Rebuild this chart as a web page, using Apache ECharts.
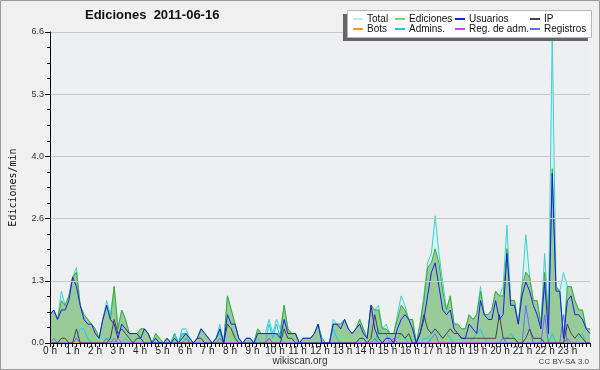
<!DOCTYPE html>
<html><head><meta charset="utf-8">
<script src="https://cdn.jsdelivr.net/npm/echarts@6/dist/echarts.min.js"></script>
<style>html,body{margin:0;padding:0;background:#f0f0f0}#c{width:600px;height:370px}</style>
</head><body><div id="c"></div>
<script>
// 10-minute bins over the day (144 values each), edits per minute
const total = [0.6,0.7,0.5,1.1,0.8,1.0,1.4,1.6,0.8,0.6,
 0.5,0.4,0.3,0.1,0.5,0.9,0.6,1.2,0.3,0.7,
 0.5,0.2,0.2,0.2,0.3,0.3,0.2,0.0,0.2,0.1,
 0.0,0.1,0.0,0.2,0.0,0.3,0.3,0.1,0.0,0.1,
 0.3,0.2,0.1,0.0,0.1,0.4,0.0,1.0,0.7,0.4,
 0.1,0.0,0.1,0.1,0.0,0.3,0.2,0.2,0.5,0.2,
 0.5,0.3,0.8,0.3,0.2,0.2,0.0,0.1,0.1,0.1,
 0.2,0.4,0.1,0.0,0.0,0.5,0.4,0.4,0.5,0.3,
 0.2,0.3,0.5,0.3,0.1,0.8,0.7,0.8,0.3,0.4,
 0.2,0.2,0.6,1.0,0.8,0.5,0.5,0.0,0.4,1.0,
 1.7,1.9,2.7,1.9,1.3,0.7,1.0,0.4,0.4,0.3,
 0.3,0.6,0.5,0.6,1.2,0.6,0.6,0.7,1.1,1.0,
 1.2,2.5,0.9,0.9,0.4,1.2,2.3,1.4,0.9,0.9,
 0.4,1.9,0.5,6.6,1.2,1.1,1.5,1.2,1.2,0.9,
 0.7,0.7,0.3,0.3];
const ediciones = [0.6,0.7,0.5,0.9,0.8,1.0,1.4,1.5,0.8,0.6,
 0.5,0.4,0.3,0.1,0.5,0.8,0.5,1.2,0.3,0.7,
 0.5,0.2,0.2,0.2,0.3,0.3,0.2,0.0,0.2,0.1,
 0.0,0.1,0.0,0.2,0.0,0.2,0.2,0.1,0.0,0.1,
 0.3,0.2,0.1,0.0,0.1,0.3,0.0,1.0,0.7,0.4,
 0.1,0.0,0.1,0.1,0.0,0.3,0.2,0.2,0.2,0.2,
 0.2,0.2,0.8,0.3,0.2,0.2,0.0,0.1,0.1,0.1,
 0.2,0.4,0.1,0.0,0.0,0.4,0.4,0.4,0.5,0.3,
 0.2,0.3,0.5,0.3,0.1,0.8,0.7,0.7,0.3,0.3,
 0.2,0.2,0.5,0.8,0.7,0.5,0.5,0.0,0.4,0.9,
 1.6,1.7,2.0,1.7,1.1,0.7,1.0,0.4,0.4,0.3,
 0.3,0.6,0.5,0.6,1.1,0.6,0.6,0.7,1.1,1.0,
 1.0,2.0,0.9,0.9,0.4,1.2,1.5,1.4,0.9,0.9,
 0.4,1.5,0.5,3.7,1.2,1.1,0.1,1.2,1.2,0.9,
 0.7,0.7,0.3,0.3];
const usuarios = [0.6,0.7,0.5,0.7,0.7,0.9,1.4,1.2,0.8,0.5,
 0.4,0.4,0.2,0.1,0.5,0.8,0.5,0.4,0.1,0.4,
 0.3,0.2,0.2,0.2,0.1,0.3,0.2,0.0,0.1,0.0,
 0.0,0.1,0.0,0.1,0.0,0.1,0.2,0.1,0.0,0.1,
 0.3,0.2,0.1,0.0,0.1,0.3,0.0,0.6,0.4,0.4,
 0.1,0.0,0.1,0.1,0.0,0.2,0.2,0.2,0.2,0.2,
 0.2,0.1,0.5,0.2,0.2,0.2,0.0,0.1,0.1,0.1,
 0.2,0.4,0.0,0.0,0.0,0.4,0.4,0.3,0.5,0.3,
 0.2,0.3,0.4,0.2,0.1,0.8,0.3,0.1,0.0,0.1,
 0.1,0.0,0.3,0.5,0.6,0.5,0.3,0.0,0.2,0.5,
 1.0,1.5,1.7,1.2,0.7,0.6,0.7,0.3,0.2,0.1,
 0.1,0.4,0.3,0.2,0.9,0.6,0.5,0.5,0.9,0.5,
 0.6,1.9,0.8,0.8,0.4,1.0,1.3,1.1,0.8,0.6,
 0.3,1.3,0.2,3.6,1.1,1.1,0.1,0.9,1.0,0.6,
 0.6,0.5,0.3,0.2];
const ip = [0,0,0,0.1,0.1,0,0,0.3,0,0,
 0,0,0,0,0,0,0.1,0.5,0.2,0.3,
 0.2,0.1,0,0.1,0.1,0,0,0,0,0,
 0,0,0,0,0,0,0,0,0,0.1,
 0.1,0,0,0,0,0,0,0.4,0.3,0.1,
 0,0,0,0,0,0,0,0,0,0,
 0,0,0.3,0.1,0.1,0,0,0,0,0,
 0,0,0,0,0,0,0,0,0,0,
 0,0,0.1,0.1,0,0.1,0.6,0.2,0.2,0.2,
 0.2,0.2,0.2,0.2,0.1,0.2,0,0,0.2,0.6,
 0.3,0.2,0.3,0.2,0.1,0.2,0.3,0.2,0.2,0.1,
 0.1,0.1,0.1,0.1,0.1,0.1,0.1,0.1,0.1,0.6,
 0.1,0.1,0.1,0.1,0,0,0.1,0.3,0.1,0.1,
 0.1,0,0,0,0,0,0,0.4,0.2,0.1,
 0.2,0.1,0,0];
const bots = [0,0,0,0,0,0,0,0,0,0, 0,0,0,0,0,0,0,0,0,0, 0,0,0,0,0,0,0,0,0,0,
 0,0,0,0,0,0,0,0,0,0, 0,0,0,0,0,0,0,0,0,0, 0,0,0,0,0,0,0,0,0,0,
 0,0,0,0,0,0,0,0,0,0, 0,0,0,0,0,0,0,0,0,0, 0,0,0,0,0,0,0,0,0,0,
 0,0,0,0,0,0,0,0,0,0, 0,0,0,0,0,0,0,0,0,0, 0,0,0,0,0,0,0,0,0,0,
 0,0,0,0,0,0,0,0,0,0, 0,0,0,0,0,0,0,0,0,0, 0,0,0,0];
const admins = [0,0,0,0,0,0,0,0.1,0.3,0.3,
 0.1,0,0,0,0,0.1,0.1,0,0,0,
 0.1,0,0,0,0,0,0,0,0,0,
 0,0,0,0.2,0,0.2,0.2,0,0,0,
 0,0,0,0,0.1,0.2,0,0,0,0,
 0,0,0,0,0,0.1,0,0,0.4,0.1,
 0.4,0.1,0,0,0,0,0,0,0,0,
 0,0,0,0,0,0.3,0.1,0,0,0,
 0,0,0,0,0,0,0,0.3,0.2,0.2,
 0,0,0.1,0.2,0.1,0,0,0,0,0.1,
 0.1,0.2,0.3,0.2,0.1,0.2,0.1,0,0,0,
 0,0,0.1,0.2,0.3,0.1,0,0,0,0,
 0,0.1,0.2,0.1,0,0,0,0,0,0,
 0,0,0,0.2,0,0,0,0,0,0,
 0.1,0.2,0,0];
const regAdm = [0,0,0,0,0,0,0,0.1,0,0,
 0,0,0,0,0,0,0,0,0.1,0,
 0,0,0,0,0,0,0,0,0,0,
 0,0,0,0,0,0,0,0,0,0,
 0,0,0,0,0,0,0,0,0,0,
 0,0,0,0,0,0,0,0,0.1,0,
 0,0,0,0,0,0,0,0,0,0,
 0,0,0,0,0,0,0,0,0,0,
 0,0,0,0,0,0,0,0,0,0,
 0,0.1,0,0,0,0,0,0,0,0,
 0,0,0,0,0,0,0,0,0,0,
 0,0,0,0,0,0,0,0,0,0,
 0.1,0,0,0,0,0,0,0,0,0,
 0,0,0,0,0,0,0,0.1,0,0,
 0,0,0,0];
const registros = [0,0.1,0,0,0,0,0,0.1,0,0,
 0,0,0,0,0,0.1,0,0.1,0,0,
 0,0,0,0,0,0,0,0,0,0,
 0,0,0,0,0,0,0.1,0,0,0,
 0,0,0,0,0,0.1,0,0,0,0,
 0,0,0,0,0,0,0,0,0.1,0,
 0,0,0,0,0,0,0,0,0,0,
 0,0,0,0,0,0,0,0,0,0,
 0,0,0,0,0,0,0.1,0,0,0,
 0,0,0,0,0,0,0,0,0,0,
 0,0.1,0.2,0,0,0,0,0,0,0,
 0,0,0,0,0,0,0,0,0,0,
 0,0,0,0,0,0,0.8,0.3,0,0,
 0,0.6,0,0,0,0,0.6,0,0,0,
 0,0,0,0];
const hourLabels = ['0 h','1 h','2 h','3 h','4 h','5 h','6 h','7 h','8 h','9 h','10 h','11 h',
 '12 h','13 h','14 h','15 h','16 h','17 h','18 h','19 h','20 h','21 h','22 h','23 h'];
const yTicks = ['0.0','1.3','2.6','4.0','5.3','6.6'];

const N = total.length;
const pos = i => i * 24 / (N - 1);
const pairs = arr => arr.map((v, i) => [pos(i), v]);
const FONT = 'Liberation Sans, Arial, sans-serif';

function lineSeries(name, data, color, extra) {
  return Object.assign({
    name, type: 'line', data: pairs(data), showSymbol: false, symbol: 'none',
    lineStyle: { color, width: 1 }, itemStyle: { color }, animation: false
  }, extra || {});
}

const legendBase = {
  orient: 'vertical', itemWidth: 10, itemHeight: 2, itemGap: 0,
  icon: 'rect', selectedMode: false, z: 20, padding: 0,
  textStyle: { fontFamily: FONT, fontSize: 10, color: '#111', lineHeight: 10, padding: [0, 0, 0, -1] }
};

const chart = echarts.init(document.getElementById('c'), null, { renderer: 'canvas' });
chart.setOption({
  backgroundColor: '#f0f0f0',
  animation: false,
  title: {
    text: 'Ediciones  2011-06-16', left: 85, top: 9, padding: 0,
    textStyle: { fontFamily: FONT, fontSize: 13, fontWeight: 'bold', color: '#111' }
  },
  grid: { left: 46, right: 10, top: 32, bottom: 27, show: true, backgroundColor: '#edeff1', borderWidth: 0 },
  legend: [
    Object.assign({}, legendBase, { left: 353, top: 14, data: [
      { name: 'Total', itemStyle: { color: '#b4f0ee' } }, 'Bots'] }),
    Object.assign({}, legendBase, { left: 395, top: 14, data: [
      { name: 'Ediciones', itemStyle: { color: '#7ed07e' } }, 'Admins.'] }),
    Object.assign({}, legendBase, { left: 455, top: 14, data: ['Usuarios', 'Reg. de adm.'] }),
    Object.assign({}, legendBase, { left: 530, top: 14, data: ['IP', 'Registros'] })
  ],
  graphic: [
    { type: 'rect', z: 10, shape: { x: 0.5, y: 0.5, width: 599, height: 369 },
      style: { fill: 'none', stroke: '#9a9a9a', lineWidth: 1 } },
    { type: 'rect', z: 10, shape: { x: 343, y: 14, width: 245, height: 27 }, style: { fill: '#666666' } },
    { type: 'rect', z: 11, shape: { x: 347.5, y: 10.5, width: 244, height: 27 },
      style: { fill: '#ffffff', stroke: '#b8b8b8', lineWidth: 1 } },
    { type: 'text', z: 11, x: 300, y: 361, style: { text: 'wikiscan.org', fontFamily: FONT, fontSize: 10,
      fill: '#333', align: 'center', verticalAlign: 'middle' } },
    { type: 'text', z: 11, x: 589, y: 362, style: { text: 'CC BY-SA 3.0', fontFamily: FONT, fontSize: 8,
      fill: '#444', align: 'right', verticalAlign: 'middle' } }
  ],
  xAxis: {
    type: 'value', min: 0, max: 24, interval: 1, z: 5,
    axisLine: { lineStyle: { color: '#000', width: 1 } },
    axisTick: { show: true, length: 4, lineStyle: { color: '#000' } },
    minorTick: { show: true, splitNumber: 6, length: 4, lineStyle: { color: '#000' } },
    splitLine: { show: false },
    axisLabel: { margin: 3, fontFamily: FONT, fontSize: 10, color: '#222',
      formatter: v => (v < hourLabels.length ? hourLabels[v] : '') }
  },
  yAxis: {
    type: 'value', min: 0, max: 6.6, interval: 1.32, z: 5,
    name: 'Ediciones/min', nameLocation: 'middle', nameGap: 32, nameRotate: 90,
    nameTextStyle: { fontFamily: 'DejaVu Sans Mono, monospace', fontSize: 10, color: '#111' },
    axisLine: { show: true, lineStyle: { color: '#000', width: 1 } },
    axisTick: { show: true, length: 5, lineStyle: { color: '#000' } },
    minorTick: { show: true, splitNumber: 4, length: 3, lineStyle: { color: '#000' } },
    splitLine: { show: true, lineStyle: { color: '#c8c8c8', width: 1 } },
    axisLabel: { margin: 6, fontFamily: FONT, fontSize: 9, color: '#333',
      formatter: v => yTicks[Math.round(v / 1.32)] }
  },
  series: [
    lineSeries('Total', total, '#3ed2cf', { areaStyle: { color: '#d3f4f1', opacity: 1 }, z: 1 }),
    lineSeries('Ediciones', ediciones, '#3aac3a', { areaStyle: { color: '#99cb99', opacity: 1 }, z: 2 }),
    lineSeries('Bots', bots, '#ff9a1a', { z: 3 }),
    lineSeries('Admins.', admins, '#22c8dc', { z: 3 }),
    lineSeries('Registros', registros, '#6b6bff', { z: 3 }),
    lineSeries('Reg. de adm.', regAdm, '#cc44ee', { z: 3 }),
    lineSeries('IP', ip, '#444444', { z: 3 }),
    lineSeries('Usuarios', usuarios, '#1c1cec', { z: 4 })
  ]
});
</script></body></html>
